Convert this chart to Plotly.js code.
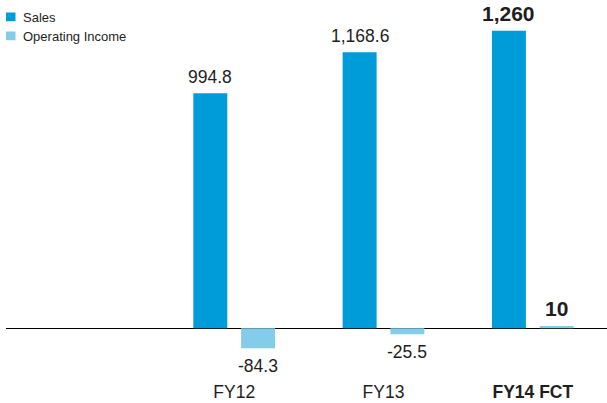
<!DOCTYPE html>
<html>
<head>
<meta charset="utf-8">
<script src="https://cdn.plot.ly/plotly-3.0.1.min.js"></script>
<style>
  html, body { margin: 0; padding: 0; background: #ffffff; }
  #chart { width: 607px; height: 403px; }
</style>
</head>
<body>
<div id="chart"></div>
<script>
// Fiscal years shown on the category axis
var years = ["FY12", "FY13", "FY14 FCT"];
var yearLabels = ["FY12", "FY13", "<b>FY14 FCT</b>"];

// Values per year
var sales = [994.8, 1168.6, 1260];
var operatingIncome = [-84.3, -25.5, 10];

// Value labels above / below each bar (the forecast year is in bold)
var salesLabels = ["994.8", "1,168.6", "<b>1,260</b>"];
var incomeLabels = ["-84.3", "-25.5", "<b>10</b>"];
var labelSizes = [17.5, 17.5, 21];

var salesColor = "#009bd9";
var incomeColor = "#84cdea";
var textColor = "#1e1e1e";
var fontFamily = "Liberation Sans, Arial, Helvetica, sans-serif";

var traces = [
  {
    type: "bar",
    name: "Sales",
    x: years,
    y: sales,
    marker: { color: salesColor },
    hoverinfo: "x+y"
  },
  {
    type: "bar",
    name: "Operating Income",
    x: years,
    y: operatingIncome,
    marker: { color: incomeColor },
    hoverinfo: "x+y"
  }
];

// Horizontal pixel offset of each bar from its category centre (grouped bars)
var barShift = 23.9;

// Value labels, anchored to the bar ends
var annotations = [];
function addValueLabels(values, labels, shift) {
  values.forEach(function (v, i) {
    var up = v >= 0;
    annotations.push({
      xref: "x", yref: "y",
      x: years[i], y: v,
      xanchor: "center",
      yanchor: up ? "bottom" : "top",
      xshift: shift,
      yshift: up ? (labelSizes[i] > 18 ? 3.6 : 4.3) : -5.7,
      showarrow: false,
      text: labels[i],
      font: { family: fontFamily, size: labelSizes[i], color: textColor }
    });
  });
}
addValueLabels(sales, salesLabels, -barShift);
addValueLabels(operatingIncome, incomeLabels, barShift);

// Hand-placed legend: small swatches with labels in the top-left corner
var legendItems = [
  { label: "Sales", color: salesColor, top: 12.5 },
  { label: "Operating Income", color: incomeColor, top: 31.5 }
];
var shapes = legendItems.map(function (it) {
  return {
    type: "rect",
    xref: "paper", yref: "paper",
    xsizemode: "pixel", ysizemode: "pixel",
    xanchor: 0, yanchor: 1,
    x0: 0, x1: 9.5,
    y0: -it.top - 8.7, y1: -it.top,
    line: { width: 0 },
    fillcolor: it.color
  };
});
legendItems.forEach(function (it) {
  annotations.push({
    xref: "paper", yref: "paper",
    x: 0, y: 1,
    xanchor: "left", yanchor: "middle",
    xshift: 14.7, yshift: -(it.top + 4.6),
    showarrow: false,
    text: it.label,
    font: { family: fontFamily, size: 13, color: textColor }
  });
});

var layout = {
  width: 607,
  height: 403,
  margin: { l: 6, r: 0, t: 0, b: 24, pad: 0 },
  paper_bgcolor: "#ffffff",
  plot_bgcolor: "#ffffff",
  showlegend: false,
  barmode: "group",
  bargap: 0.36,
  bargroupgap: 0.289,
  font: { family: fontFamily, color: textColor },
  xaxis: {
    type: "category",
    range: [-1.5285, 2.497],
    tickvals: years,
    ticktext: yearLabels,
    tickfont: { family: fontFamily, size: 17.5, color: textColor },
    showline: false,
    showgrid: false,
    zeroline: false,
    ticks: "",
    fixedrange: true
  },
  yaxis: {
    range: [-214.6, 1390],
    showticklabels: false,
    showgrid: false,
    showline: false,
    ticks: "",
    zeroline: true,
    zerolinecolor: "#000000",
    zerolinewidth: 1.4,
    fixedrange: true
  },
  shapes: shapes,
  annotations: annotations
};

Plotly.newPlot("chart", traces, layout, { displayModeBar: false, staticPlot: true });
</script>
</body>
</html>
